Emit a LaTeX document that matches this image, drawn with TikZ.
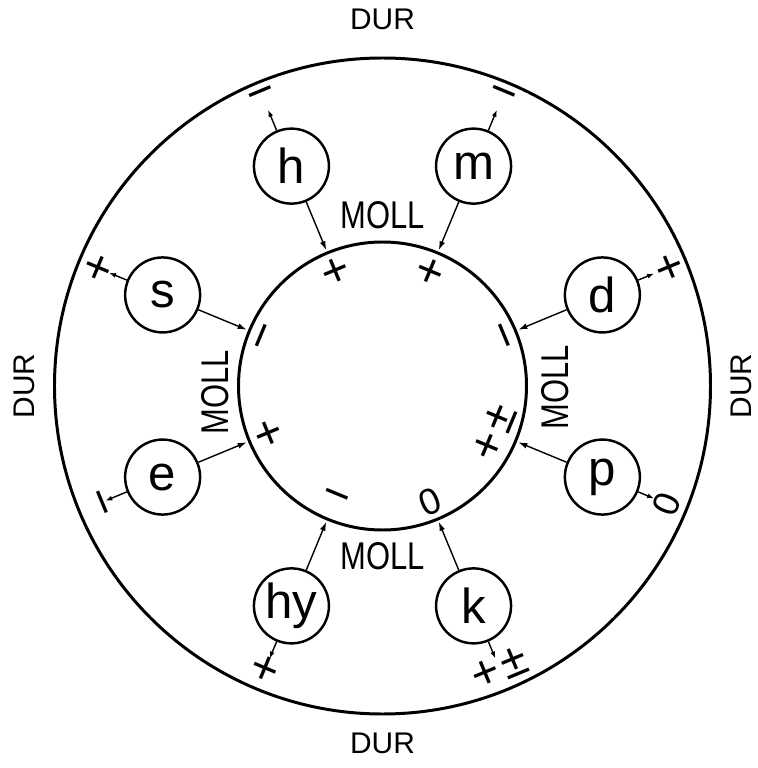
\documentclass[tikz,border=0pt]{standalone}
\usepackage{fontspec}
\setmainfont{Liberation Sans}
\newfontfamily\narrowfont{Liberation Sans}[FakeStretch=0.8]
\usetikzlibrary{arrows.meta,calc}

\begin{document}
\begin{tikzpicture}[
    every node/.style={inner sep=0pt},
    ring/.style={line width=1.7pt},
    factor/.style={draw, circle, line width=1.4pt, minimum size=1.5cm, font=\fontsize{28}{28}\selectfont},
    sign/.style={font=\fontsize{27}{27}\selectfont},
    zero/.style={font=\fontsize{21}{21}\selectfont},
    moll/.style={font=\narrowfont\fontsize{22}{22}\selectfont},
    dur/.style={font=\fontsize{17}{17}\selectfont},
    inarrow/.style={line width=0.8pt, -{Latex[length=1.8mm,width=1.2mm]}},
    outarrow/.style={line width=0.8pt, -{Latex[length=1.4mm,width=1mm]}},
]
\useasboundingbox (-7.65,-7.64) rectangle (7.49,7.72);

% Rings
\draw[ring] (0,0) circle (6.56);
\draw[ring] (0,0) circle (2.88);

% Ring labels
\node[dur] (dur-top) at (0,7.33) {DUR};
\node[dur] (dur-bottom) at (0,-7.14) {DUR};
\node[dur, rotate=90] (dur-left) at (-7.17,0) {DUR};
\node[dur, rotate=90] (dur-right) at (7.17,0) {DUR};
\node[moll] (moll-top) at (0,3.42) {MOLL};
\node[moll] (moll-bottom) at (0,-3.40) {MOLL};
\node[moll, rotate=90] (moll-left) at (-3.35,-0.13) {MOLL};
\node[moll, rotate=90] (moll-right) at (3.45,-0.02) {MOLL};

% Factors
\node[factor] (h) at (112.5:4.76) {h};
\node[factor] (m) at (67.5:4.76) {m};
\node[factor] (s) at (157.5:4.76) {s};
\node[factor] (d) at (22.5:4.76) {d};
\node[factor] (e) at (202.5:4.76) {e};
\node[factor] (p) at (337.5:4.76) {p};
\node[factor] (hy) at (247.5:4.76) {hy};
\node[factor] (k) at (292.5:4.76) {k};

% Arrow ends on the inner ring
\coordinate (h-in) at (112.5:2.94);
\coordinate (m-in) at (67.5:2.94);
\coordinate (s-in) at (157.5:2.94);
\coordinate (d-in) at (22.5:2.94);
\coordinate (e-in) at (202.5:2.94);
\coordinate (p-in) at (337.5:2.94);
\coordinate (hy-in) at (247.5:2.94);
\coordinate (k-in) at (292.5:2.94);

% Arrow ends towards the outer ring
\coordinate (h-out) at (112.5:5.98);
\coordinate (m-out) at (67.5:5.98);
\coordinate (s-out) at (157.5:5.92);
\coordinate (d-out) at (22.5:5.88);
\coordinate (e-out) at (202.5:6.0);
\coordinate (p-out) at (337.5:5.88);
\coordinate (hy-out) at (247.5:5.9);
\coordinate (k-out) at (292.5:5.9);

% Signs inside the inner ring
\node[sign, rotate=22.5] (h-mark) at (112.5:2.45) {+};
\node[sign, rotate=-22.5] (m-mark) at (67.5:2.45) {+};
\node[sign, rotate=67.5] (s-mark) at (157.5:2.48) {−};
\node[sign, rotate=-67.5] (d-mark) at (22.5:2.5) {−};
\node[sign, rotate=-67.5] (e-mark) at (202.5:2.52) {+};
\node[sign, rotate=67.5] (p-mark) at (337.5:2.42) {+\kern2pt±};
\node[sign, rotate=-22.5] (hy-mark) at (247.5:2.48) {−};
\node[zero, rotate=22.5] (k-mark) at (292.5:2.5) {0};

% Signs near the outer ring
\node[sign, rotate=22.5] (h-sign) at (112.5:6.24) {−};
\node[sign, rotate=-22.5] (m-sign) at (67.5:6.24) {−};
\node[sign, rotate=67.5] (s-sign) at (157.5:6.12) {+};
\node[sign, rotate=-67.5] (d-sign) at (22.5:6.16) {+};
\node[sign, rotate=-67.5] (e-sign) at (202.5:6.2) {−};
\node[zero, rotate=67.5] (p-sign) at (337.5:6.16) {0};
\node[sign, rotate=-22.5] (hy-sign) at (247.5:6.16) {+};
\node[sign, rotate=22.5] (k-sign) at (292.5:6.12) {+\kern2pt±};

% Arrows
\draw[inarrow] (h) -- (h-in);
\draw[inarrow] (m) -- (m-in);
\draw[inarrow] (s) -- (s-in);
\draw[inarrow] (d) -- (d-in);
\draw[inarrow] (e) -- (e-in);
\draw[inarrow] (p) -- (p-in);
\draw[inarrow] (hy) -- (hy-in);
\draw[inarrow] (k) -- (k-in);
\draw[outarrow] (h) -- (h-out);
\draw[outarrow] (m) -- (m-out);
\draw[outarrow] (s) -- (s-out);
\draw[outarrow] (d) -- (d-out);
\draw[outarrow] (e) -- (e-out);
\draw[outarrow] (p) -- (p-out);
\draw[outarrow] (hy) -- (hy-out);
\draw[outarrow] (k) -- (k-out);

\end{tikzpicture}
\end{document}
